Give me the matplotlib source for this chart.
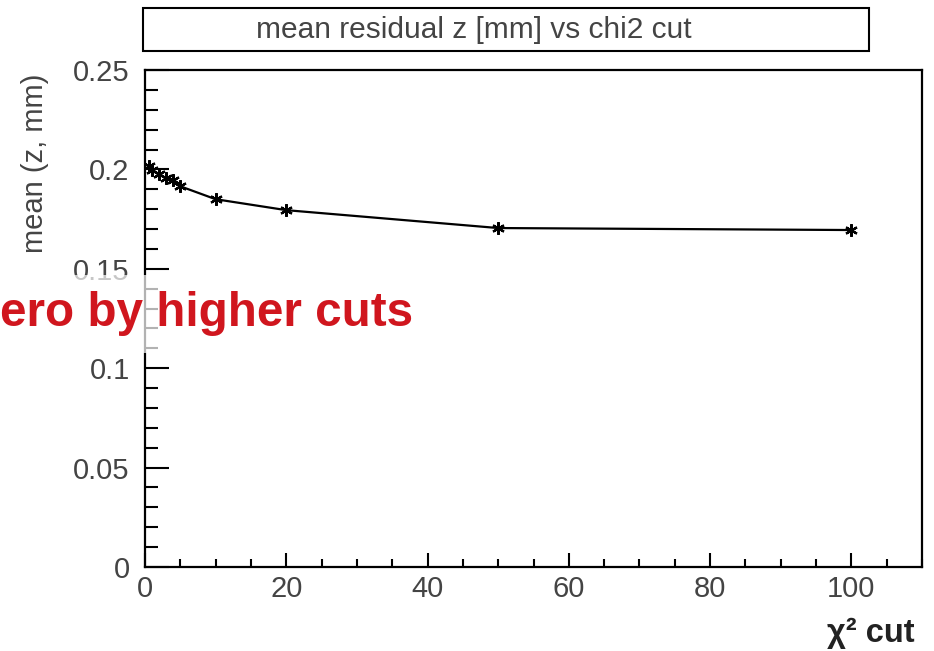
import matplotlib
matplotlib.use('Agg')
import matplotlib.pyplot as plt
from matplotlib.patches import Rectangle
from matplotlib.ticker import MultipleLocator

plt.rcParams['font.family'] = ['Liberation Sans', 'DejaVu Sans']

# chi2 cut values and mean residual z
chi2_cut = [0.5, 1, 2, 3, 4, 5, 10, 20, 50, 100]
mean_z = [0.2015, 0.1995, 0.1975, 0.1955, 0.1945, 0.1915, 0.1850, 0.1795, 0.1705, 0.1695]

title = 'mean residual z [mm] vs chi2 cut'
ylabel = 'mean (z, mm)'
xlabel = 'χ² cut'
overlay = 'ero by higher cuts'

W, H = 934, 651
fig = plt.figure(figsize=(W / 100, H / 100), dpi=100)

def px(x0, y0, x1, y1):
    return [x0 / W, 1 - y1 / H, (x1 - x0) / W, (y1 - y0) / H]

ax = fig.add_axes(px(145, 70, 922, 567))
ax.plot(chi2_cut, mean_z, color='black', lw=1.6, marker=(6, 2, 0),
        markersize=9, markeredgewidth=1.6)
ax.set_xlim(0, 110)
ax.set_ylim(0, 0.25)

ax.xaxis.set_minor_locator(MultipleLocator(5))
ax.yaxis.set_minor_locator(MultipleLocator(0.01))
ax.set_yticks([0, 0.05, 0.1, 0.15, 0.2, 0.25])
ax.set_yticklabels(['0', '0.05', '0.1', '0.15', '0.2', '0.25'])
ax.set_xticks([0, 20, 40, 60, 80, 100])
ax.set_xticklabels(['0', '20', '40', '60', '80', '100'])

ax.tick_params(axis='both', which='both', direction='in', top=False, right=False,
               labelsize=21, labelcolor='#444444', width=1.5)
ax.tick_params(axis='y', which='major', length=17, pad=11)
ax.tick_params(axis='y', which='minor', length=9.5)
ax.tick_params(axis='x', which='major', length=10, pad=6)
ax.tick_params(axis='x', which='minor', length=5.5)
for s in ax.spines.values():
    s.set_linewidth(1.6)

# title box
fig.patches.append(Rectangle((143 / W, 1 - 51 / H), (869 - 143) / W, 43 / H,
                             transform=fig.transFigure, fill=False,
                             edgecolor='black', lw=1.5))
fig.text(474 / W, 1 - 30 / H, title, ha='center', va='center', fontsize=21.5,
         color='#444444')

fig.text(35 / W, 1 - 163 / H, ylabel, rotation=90, ha='center', va='center',
         fontsize=21, color='#444444')
fig.text(915 / W, 1 - 633 / H, xlabel, ha='right', va='center', fontsize=23.5,
         fontweight='bold', color='#222222')

fig.text(0, 1 - 314 / H, overlay, ha='left', va='center', fontsize=34.3,
         fontweight='bold', color='#d0161e',
         bbox=dict(facecolor='white', alpha=0.7, edgecolor='none', pad=12))

fig.savefig('out.png', dpi=100)
